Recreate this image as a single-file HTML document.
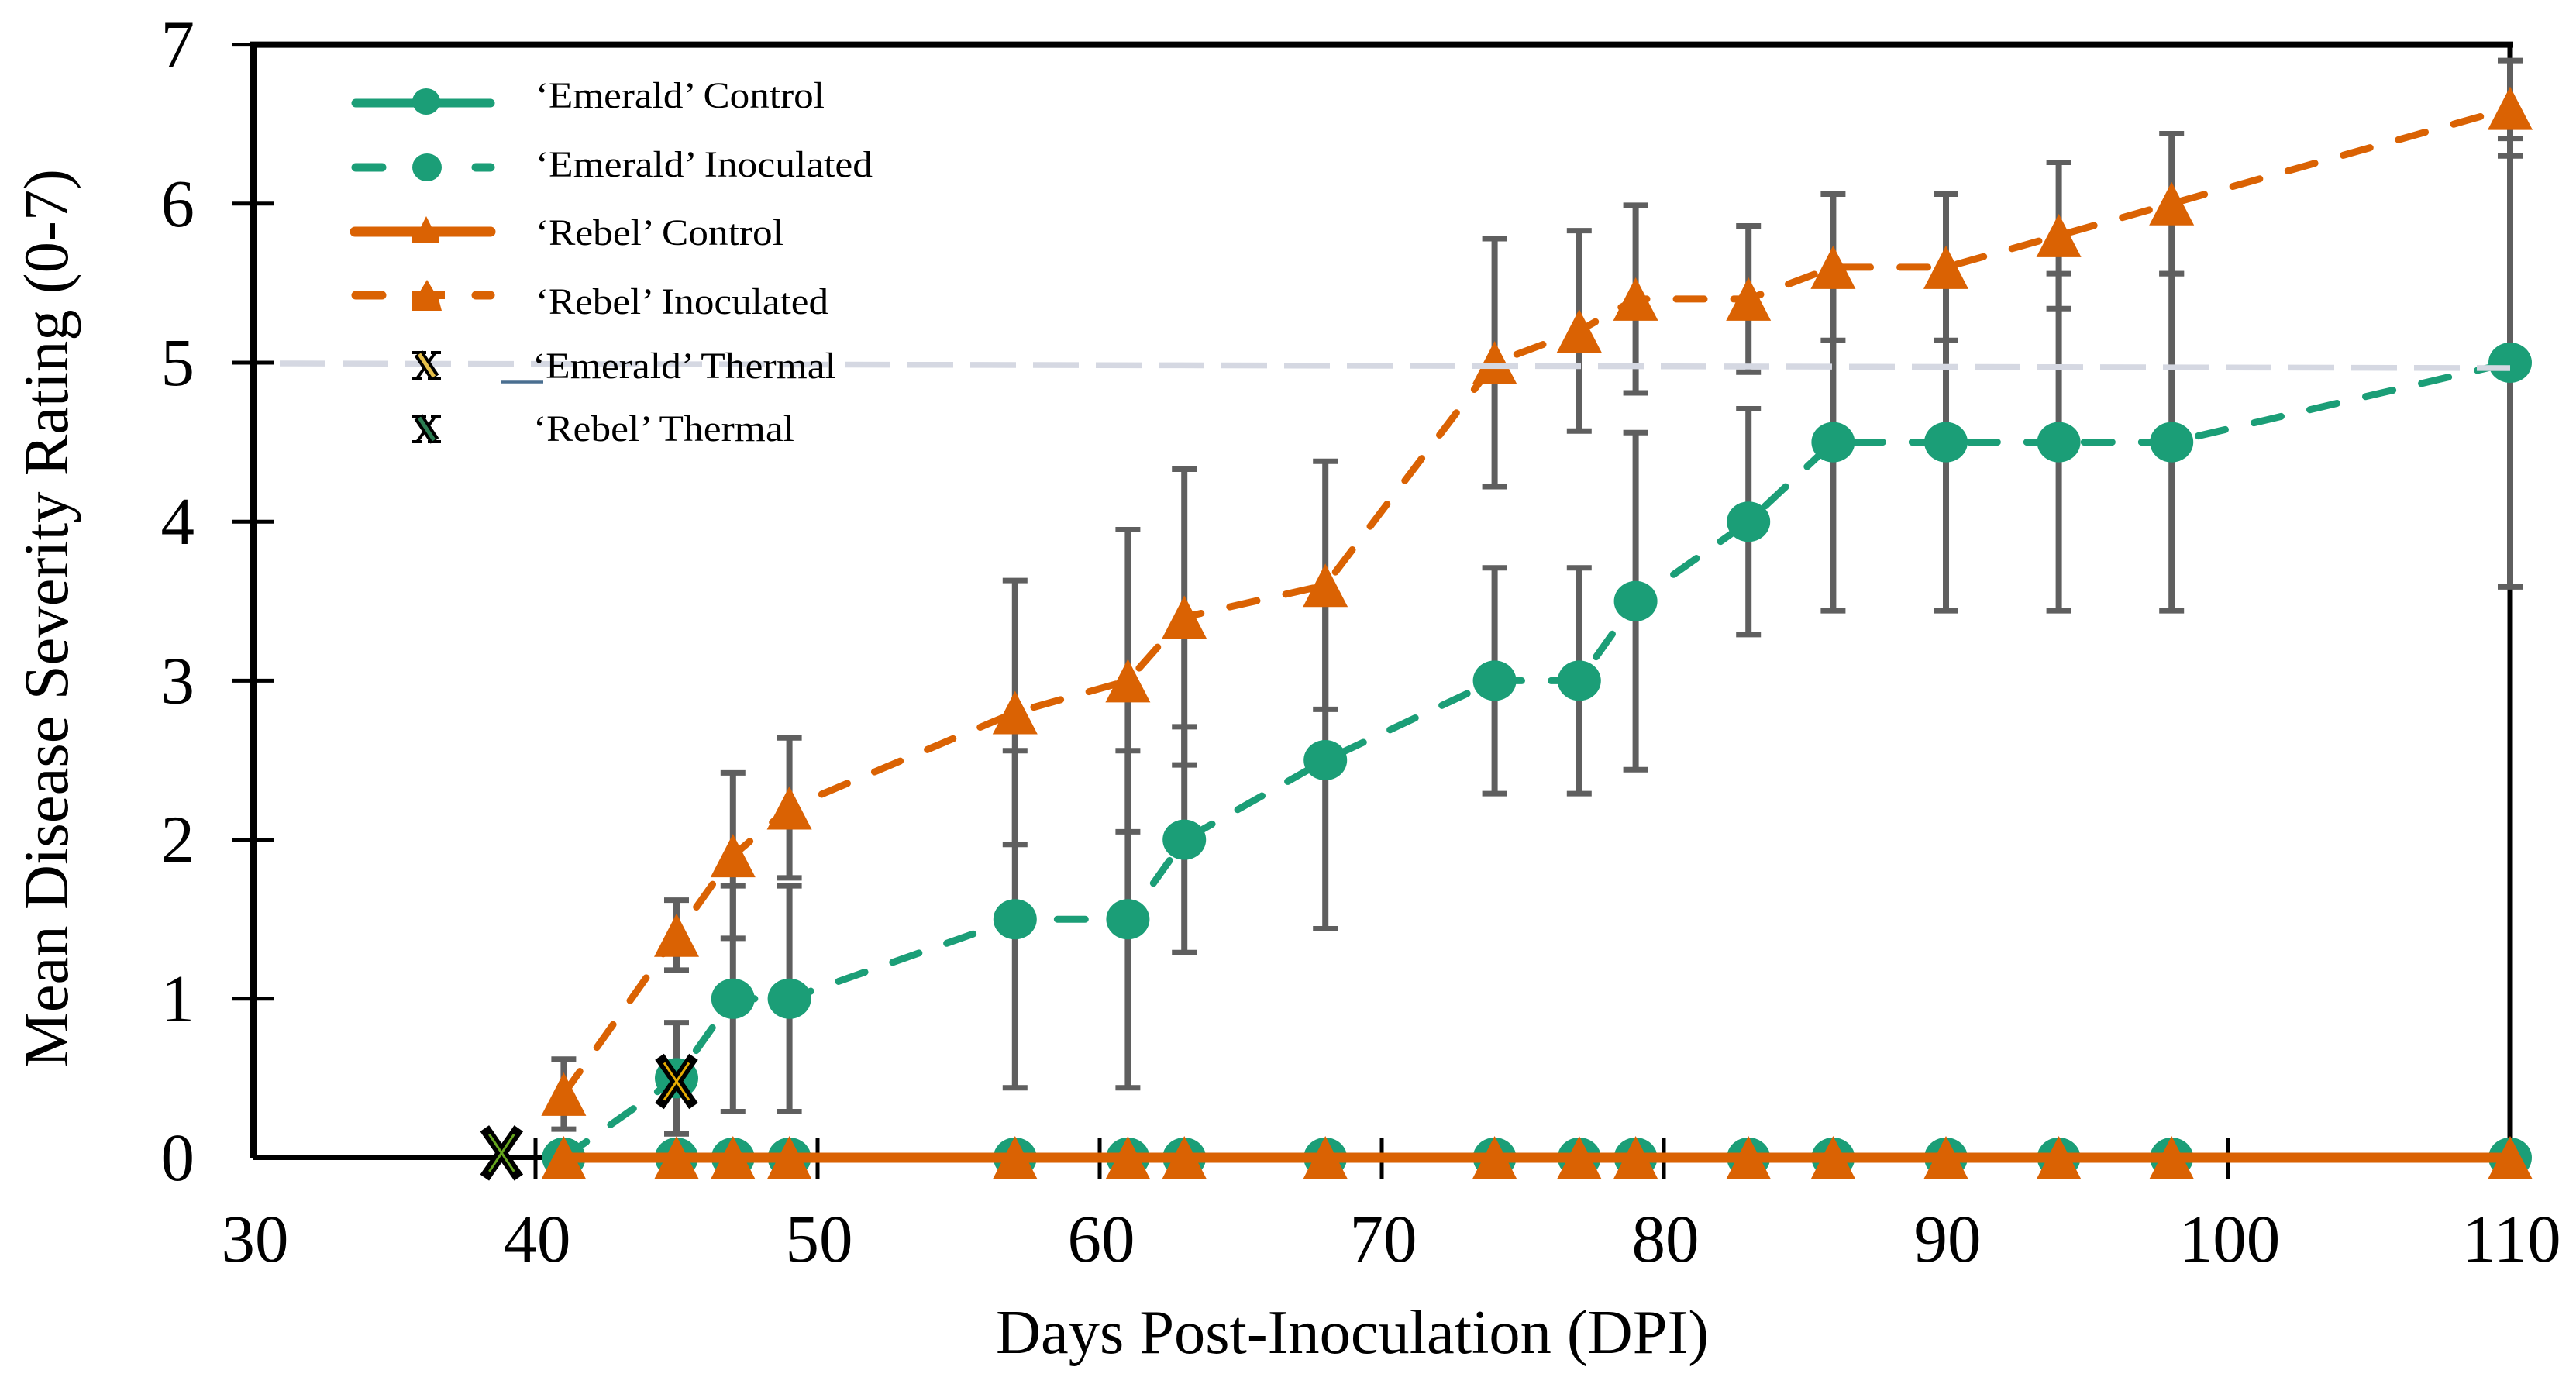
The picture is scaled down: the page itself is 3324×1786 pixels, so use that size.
<!DOCTYPE html>
<html lang="en">
<head>
<meta charset="utf-8">
<title>Mean Disease Severity Rating</title>
<style>
html,body{margin:0;padding:0;background:#fff;}
svg{display:block;font-family:"Liberation Serif",serif;fill:#000;}
</style>
</head>
<body>
<svg id="chart" xmlns="http://www.w3.org/2000/svg" width="3324" height="1786" viewBox="0 0 3324 1786">
  <rect x="0" y="0" width="3324" height="1786" fill="#ffffff"/>
  <g id="axes"></g>
  <g id="errors"></g>
  <g id="series"></g>
  <g id="overlay"></g>
  <text x="1745" y="1746" font-size="81" text-anchor="middle" textLength="920" lengthAdjust="spacingAndGlyphs">Days Post-Inoculation (DPI)</text>
  <text transform="translate(87,798) rotate(-90)" font-size="82" text-anchor="middle" textLength="1160" lengthAdjust="spacingAndGlyphs">Mean Disease Severity Rating (0-7)</text>
  <g>
    <g>
      <line x1="459" y1="133" x2="633" y2="133" stroke="#1b9e77" stroke-width="11" stroke-linecap="round"/>
      <ellipse cx="550" cy="131" rx="18" ry="17" fill="#1b9e77"/>
      <text x="691" y="139" font-size="48" textLength="373" lengthAdjust="spacingAndGlyphs">‘Emerald’ Control</text>
    </g>
    <g>
      <line x1="459" y1="216" x2="493" y2="216" stroke="#1b9e77" stroke-width="11" stroke-linecap="round"/>
      <line x1="614" y1="216" x2="633" y2="216" stroke="#1b9e77" stroke-width="11" stroke-linecap="round"/>
      <ellipse cx="551" cy="216" rx="19" ry="18" fill="#1b9e77"/>
      <text x="691" y="228" font-size="48" textLength="435" lengthAdjust="spacingAndGlyphs">‘Emerald’ Inoculated</text>
    </g>
    <g>
      <line x1="458" y1="299" x2="633" y2="299" stroke="#da6203" stroke-width="13" stroke-linecap="round"/>
      <polygon points="550,279 563,305 567,305 567,314 532,314 532,305 537,305" fill="#da6203"/>
      <text x="691" y="316" font-size="48" textLength="320" lengthAdjust="spacingAndGlyphs">‘Rebel’ Control</text>
    </g>
    <g>
      <line x1="459" y1="381" x2="493" y2="381" stroke="#da6203" stroke-width="11" stroke-linecap="round"/>
      <line x1="614" y1="381" x2="633" y2="381" stroke="#da6203" stroke-width="11" stroke-linecap="round"/>
      <polygon points="551,361 560,376 574,376 574,386 566,386 570,401 532,401 532,376 542,376" fill="#da6203"/>
      <text x="691" y="405" font-size="48" textLength="378" lengthAdjust="spacingAndGlyphs">‘Rebel’ Inoculated</text>
    </g>
    <g>
      <path d="M532 455H550M556 455H569M532 488H545M552 488H569M561 456L539 487" fill="none" stroke="#000" stroke-width="4"/>
      <line x1="540" y1="456" x2="561" y2="487" stroke="#000" stroke-width="13"/>
      <line x1="541" y1="457" x2="560" y2="486" stroke="#e6c04a" stroke-width="5"/>
      <line x1="647" y1="493" x2="701" y2="493" stroke="#4a6f90" stroke-width="3.5"/>
      <text x="687" y="488" font-size="48" textLength="392" lengthAdjust="spacingAndGlyphs">‘Emerald’ Thermal</text>
    </g>
    <g>
      <path d="M532 537H550M556 537H569M532 570H545M552 570H569M561 538L539 569" fill="none" stroke="#000" stroke-width="4"/>
      <line x1="540" y1="538" x2="561" y2="569" stroke="#000" stroke-width="13"/>
      <line x1="541" y1="539" x2="560" y2="568" stroke="#2b7d52" stroke-width="5"/>
      <text x="688" y="569" font-size="48" textLength="337" lengthAdjust="spacingAndGlyphs">‘Rebel’ Thermal</text>
    </g>
  </g>
</svg>
<script>
const days = [41, 45, 47, 49, 57, 61, 63, 68, 74, 77, 79, 83, 86, 90, 94, 98, 110];
const emeraldControl = [0, 0, 0, 0, 0, 0, 0, 0, 0, 0, 0, 0, 0, 0, 0, 0, 0];
const rebelControl = [0, 0, 0, 0, 0, 0, 0, 0, 0, 0, 0, 0, 0, 0, 0, 0, 0];
const emeraldInoculated = [0, 0.5, 1, 1, 1.5, 1.5, 2, 2.5, 3, 3, 3.5, 4, 4.5, 4.5, 4.5, 4.5, 5];
const rebelInoculated = [0.4, 1.4, 1.9, 2.2, 2.8, 3, 3.4, 3.6, 5, 5.2, 5.4, 5.4, 5.6, 5.6, 5.8, 6, 6.6];
const emeraldError = [0, 0.35, 0.71, 0.71, 1.06, 1.06, 0.71, 1.06, 0.71, 0.71, 1.06, 0.71, 1.06, 1.06, 1.06, 1.06, 1.41];
const rebelError = [0.22, 0.22, 0.52, 0.44, 0.83, 0.95, 0.93, 0.78, 0.78, 0.63, 0.59, 0.46, 0.46, 0.46, 0.46, 0.44, 0.3];
const emeraldThermalDay = [45];
const emeraldThermalRating = [0.48];
const rebelThermalDay = [38.8];
const rebelThermalRating = [0.03];
const thresholdRating = [5];
const xTicks = [30, 40, 50, 60, 70, 80, 90, 100, 110];
const yTicks = [0, 1, 2, 3, 4, 5, 6, 7];

const NS = 'http://www.w3.org/2000/svg';
const X0 = 327, XPER = 36.4, Y0 = 1494, YPER = 205.2;
function xs(v) { return X0 + (v - 30) * XPER; }
function ys(v) { return Y0 - v * YPER; }
function el(tag, attrs, parent) {
  const e = document.createElementNS(NS, tag);
  for (const k in attrs) e.setAttribute(k, attrs[k]);
  parent.appendChild(e);
  return e;
}
const axes = document.getElementById('axes');
const errors = document.getElementById('errors');
const series = document.getElementById('series');
const overlay = document.getElementById('overlay');

const topSpine = el('line', {x1: xs(30) - 4, x2: xs(110) + 4, y1: ys(7), y2: ys(7), stroke: '#000', 'stroke-width': 8}, axes);


const leftSpine = el('line', {x1: xs(30), x2: xs(30), y1: ys(7), y2: ys(0), stroke: '#000', 'stroke-width': 8}, axes);


const rightSpine = el('line', {x1: xs(110), x2: xs(110), y1: ys(7), y2: ys(0), stroke: '#000', 'stroke-width': 7}, axes);


const bottomSpine = el('line', {x1: xs(30), x2: xs(110), y1: ys(0), y2: ys(0), stroke: '#000', 'stroke-width': 6}, axes);



xTicks.forEach(function (t) {
  if (t !== 30 && t !== 110) {
    const tick = el('line', {x1: xs(t), x2: xs(t), y1: ys(0) - 26, y2: ys(0) + 27, stroke: '#000', 'stroke-width': 5}, axes);
    
    
  }
  const label = el('text', {x: xs(t) + 2, y: 1628, 'font-size': 87, 'text-anchor': 'middle'}, axes);
  
  
  label.textContent = t;
});
yTicks.forEach(function (t) {
  const right = t === 7 ? xs(30) : xs(30) + 27;
  if (t !== 0) {
    const tick = el('line', {x1: xs(30) - 27, x2: right, y1: ys(t), y2: ys(t), stroke: '#000', 'stroke-width': 5}, axes);
    
    
  }
  const label = el('text', {x: 251, y: ys(t) + 29, 'font-size': 87, 'text-anchor': 'end'}, axes);
  
  
  label.textContent = t;
});

function drawErrors(values, errs) {
  days.forEach(function (d, i) {
    if (errs[i] === 0) return;
    const hi = ys(values[i] + errs[i]);
    const lo = ys(Math.max(0, values[i] - errs[i]));
    const stem = el('line', {x1: xs(d), x2: xs(d), y1: hi, y2: lo, stroke: '#5f5f5f', 'stroke-width': 8}, errors);
    
    
    [hi, lo].forEach(function (c) {
      const cap = el('line', {x1: xs(d) - 16, x2: xs(d) + 16, y1: c, y2: c, stroke: '#5f5f5f', 'stroke-width': 7}, errors);
      
      
    });
  });
}
drawErrors(emeraldInoculated, emeraldError);
drawErrors(rebelInoculated, rebelError);

function linePoints(values) {
  return days.map(function (d, i) { return xs(d) + ',' + ys(values[i]); }).join(' ');
}
function drawCircles(values, name) {
  days.forEach(function (d, i) {
    const c = el('ellipse', {cx: xs(d), cy: ys(values[i]), rx: 28, ry: 26, fill: '#1b9e77'}, series);
    
    
  });
}
function drawTriangles(values, name) {
  days.forEach(function (d, i) {
    const cx = xs(d), cy = ys(values[i]);
    const t = el('polygon', {points: cx + ',' + (cy - 28) + ' ' + (cx + 29) + ',' + (cy + 28) + ' ' + (cx - 29) + ',' + (cy + 28), fill: '#da6203'}, series);
    
    
  });
}

const emeraldControlLine = el('polyline', {points: linePoints(emeraldControl), fill: 'none', stroke: '#1b9e77', 'stroke-width': 12}, series);


drawCircles(emeraldControl, 'emerald-control-point');

const emeraldInocLine = el('polyline', {points: linePoints(emeraldInoculated), fill: 'none', stroke: '#1b9e77', 'stroke-width': 9, 'stroke-dasharray': '36 38', 'stroke-linecap': 'round', 'stroke-linejoin': 'round'}, series);


drawCircles(emeraldInoculated, 'emerald-inoculated-point');

const rebelInocLine = el('polyline', {points: linePoints(rebelInoculated), fill: 'none', stroke: '#da6203', 'stroke-width': 9, 'stroke-dasharray': '36 38', 'stroke-linecap': 'round', 'stroke-linejoin': 'round'}, series);


drawTriangles(rebelInoculated, 'rebel-inoculated-point');

const rebelControlLine = el('polyline', {points: linePoints(rebelControl), fill: 'none', stroke: '#da6203', 'stroke-width': 13}, series);


drawTriangles(rebelControl, 'rebel-control-point');

function drawThermal(dayList, ratings, color, name) {
  dayList.forEach(function (d, i) {
    const cx = xs(d), cy = ys(ratings[i]);
    const g = el('g', {}, series);
    
    
    el('line', {x1: cx - 18, y1: cy - 26, x2: cx + 18, y2: cy + 26, stroke: '#000', 'stroke-width': 14, 'stroke-linecap': 'square'}, g);
    el('line', {x1: cx + 18, y1: cy - 26, x2: cx - 18, y2: cy + 26, stroke: '#000', 'stroke-width': 14, 'stroke-linecap': 'square'}, g);
    el('line', {x1: cx - 16, y1: cy - 24, x2: cx + 16, y2: cy + 24, stroke: color, 'stroke-width': 3}, g);
    el('line', {x1: cx + 16, y1: cy - 24, x2: cx - 16, y2: cy + 24, stroke: color, 'stroke-width': 3}, g);
  });
}
drawThermal(emeraldThermalDay, emeraldThermalRating, '#e6ab02', 'emerald-thermal-marker');
drawThermal(rebelThermalDay, rebelThermalRating, '#66a61e', 'rebel-thermal-marker');

const thresholdLine = el('line', {x1: 361, y1: ys(thresholdRating[0]) + 1, x2: xs(110), y2: ys(thresholdRating[0]) + 7, stroke: '#d5d8e2', 'stroke-width': 7.5, 'stroke-dasharray': '59 22'}, overlay);


</script>
</body>
</html>
